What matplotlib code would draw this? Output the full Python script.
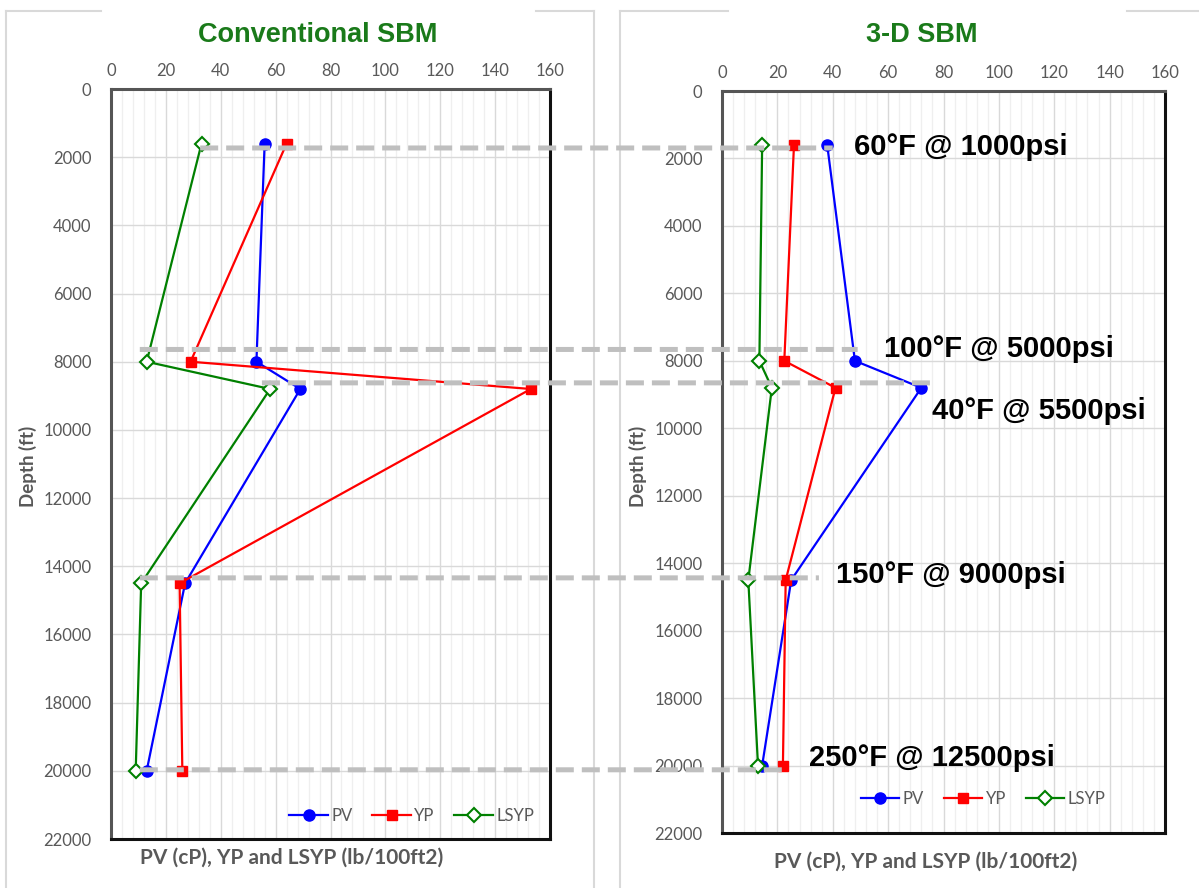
import matplotlib
matplotlib.use("Agg")
import matplotlib.pyplot as plt
from matplotlib.patches import ConnectionPatch
from matplotlib.lines import Line2D
from matplotlib.ticker import MultipleLocator
from matplotlib.transforms import blended_transform_factory

# ---- data ----
depth = [1600, 8000, 8800, 14500, 20000]

conv_pv = [56, 53, 69, 27, 13]
conv_yp = [64, 29, 153, 25, 26]
conv_lsyp = [33, 13, 58, 11, 9]

d3_pv = [38, 48, 72, 25, 14.5]
d3_yp = [26, 22.5, 41, 23, 22]
d3_lsyp = [14.5, 13.5, 18, 9.5, 13]

titles = ["Conventional SBM", "3-D SBM"]
series_names = ["PV", "YP", "LSYP"]

# dashed connectors: depth, start x (left panel), end x (right panel)
conn_depth = [1730, 7640, 8620, 14340, 19970]
conn_x_start = [32.5, 10.5, 55, 10.5, 10.5]
conn_x_end = [40, 49, 76, 35, 24.5]

ann_text = ["60°F @ 1000psi", "100°F @ 5000psi", "40°F @ 5500psi",
            "150°F @ 9000psi", "250°F @ 12500psi"]
ann_x = [47.5, 58.5, 76, 41, 31.5]
ann_y = [1660, 7650, 9500, 14350, 19780]

# ---- figure ----
fig = plt.figure(figsize=(11.99, 8.88), dpi=100)
W, H = 1199.0, 888.0

def rect(x0, y0, x1, y1):
    return [x0 / W, 1 - y1 / H, (x1 - x0) / W, (y1 - y0) / H]

ax1 = fig.add_axes(rect(111, 89, 550, 839))
ax2 = fig.add_axes(rect(722, 91, 1165, 833))

grey = "#595959"
green_title = "#1a7a1a"
tickfont = "Lato"

styles = [
    dict(color="#0000ff", marker="o", markersize=8, markerfacecolor="#0000ff"),
    dict(color="#ff0000", marker="s", markersize=7.5, markerfacecolor="#ff0000"),
    dict(color="#008000", marker="D", markersize=7, markerfacecolor="white",
         markeredgewidth=1.5),
]

for ax, data in [(ax1, (conv_pv, conv_yp, conv_lsyp)), (ax2, (d3_pv, d3_yp, d3_lsyp))]:
    for name, vals, st in zip(series_names, data, styles):
        ax.plot(vals, depth, lw=1.6, label=name, zorder=3, **st)
    ax.set_xlim(0, 160)
    ax.set_ylim(22000, 0)
    ax.xaxis.set_major_locator(MultipleLocator(20))
    ax.xaxis.set_minor_locator(MultipleLocator(4))
    ax.yaxis.set_major_locator(MultipleLocator(2000))
    ax.xaxis.tick_top()
    ax.tick_params(axis="both", which="both", length=0, labelcolor=grey, labelsize=12)
    ax.tick_params(axis="x", pad=7)
    ax.tick_params(axis="y", pad=14)
    for lab in ax.get_xticklabels() + ax.get_yticklabels():
        lab.set_fontfamily(tickfont)
    ax.grid(True, which="major", color="#d9d9d9", lw=1.0, zorder=0)
    ax.grid(True, which="minor", axis="x", color="#efefef", lw=0.9, zorder=0)
    ax.set_axisbelow(True)
    for side in ["left", "top"]:
        ax.spines[side].set_color("#555555")
        ax.spines[side].set_linewidth(2.2)
    for side in ["right", "bottom"]:
        ax.spines[side].set_color("#111111")
        ax.spines[side].set_linewidth(2.2)
    ax.legend(loc="lower center", ncol=3, frameon=False,
              prop={"family": tickfont, "size": 12}, labelcolor=grey,
              handlelength=2.3, handletextpad=0.2, columnspacing=1.2)

ax1.legend_.set_bbox_to_anchor((0.685, 0.0))
ax2.legend_.set_bbox_to_anchor((0.59, 0.015))

# titles
fig.text(318 / W, 1 - 35 / H, titles[0], ha="center", va="center", color=green_title,
         fontsize=19.5, fontweight="bold", family="Liberation Sans")
fig.text(922 / W, 1 - 35 / H, titles[1], ha="center", va="center", color=green_title,
         fontsize=19.5, fontweight="bold", family="Liberation Sans")

# axis labels
for xc, yc in [(28, 466), (638, 466)]:
    fig.text(xc / W, 1 - yc / H, "Depth (ft)", rotation=90, ha="center", va="center",
             color=grey, fontsize=13.5, fontweight="bold", family=tickfont)
for xc, yc in [(292, 858), (926, 862)]:
    fig.text(xc / W, 1 - yc / H, "PV (cP), YP and LSYP (lb/100ft2)", ha="center",
             va="center", color=grey, fontsize=15, fontweight="bold", family=tickfont)

# panel frames (light grey, with gaps at top)
fc = "#d9d9d9"
def fline(xs, ys):
    fig.add_artist(Line2D([x / W for x in xs], [1 - y / H for y in ys], color=fc, lw=1.5))
fline([6, 6], [11, 888])
fline([6, 101], [11, 11])
fline([536, 594], [11, 11])
fline([594, 594], [11, 888])
fline([620, 620], [11, 888])
fline([620, 728], [11, 11])
fline([1127, 1199], [11, 11])

# dashed connectors (horizontal: y measured on left axis for both ends)
tB = blended_transform_factory(ax2.transData, ax1.transData)
for d, xs, xe in zip(conn_depth, conn_x_start, conn_x_end):
    cp = ConnectionPatch(xyA=(xs, d), coordsA=ax1.transData,
                         xyB=(xe, d), coordsB=tB,
                         color="#bfbfbf", lw=3.6, linestyle=(0, (3.6, 1.6)),
                         capstyle="butt", zorder=10)
    fig.add_artist(cp)

# annotations
for t, x, y in zip(ann_text, ann_x, ann_y):
    ax2.text(x, y, t, ha="left", va="center", fontsize=21, fontweight="bold",
             family="Liberation Sans", color="black", zorder=11, clip_on=False)

fig.savefig("out.png", dpi=100)
